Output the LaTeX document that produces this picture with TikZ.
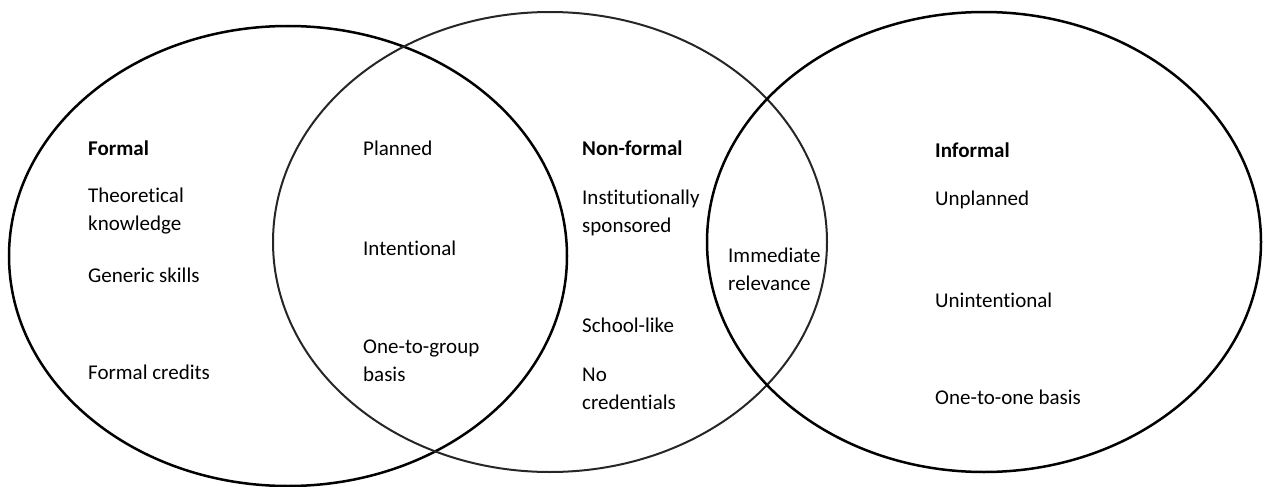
\documentclass[tikz,border=0pt]{standalone}
\usepackage{fontspec}
\setmainfont[Ligatures={NoCommon}]{Carlito}
\usetikzlibrary{shapes.geometric, positioning}

\begin{document}
\begin{tikzpicture}[x=1pt, y=-1pt]
    \tikzstyle{outerset} = [ellipse, draw=black, line width=2.5pt, inner sep=0pt]
    \tikzstyle{innerset} = [ellipse, draw=black!85, line width=2pt, inner sep=0pt]
    \tikzstyle{txt} = [anchor=west, align=left, inner sep=0pt, font=\fontsize{21}{28}\selectfont]
    \tikzstyle{head} = [txt, font=\fontsize{21}{28}\selectfont\bfseries]

    \useasboundingbox (0,0) rectangle (1267,487);

    \node (formalset) [outerset, minimum width=558pt, minimum height=460pt] at (288,256) {};
    \node (nonformalset) [innerset, minimum width=554pt, minimum height=460pt] at (550,242) {};
    \node (informalset) [outerset, minimum width=554pt, minimum height=460pt] at (984,242) {};

    % formal
    \node (formal) [head] at (88,148) {Formal};
    \node (theor) [txt] at (88,211) {Theoretical\\knowledge};
    \node (generic) [txt] at (88,275) {Generic skills};
    \node (credits) [txt] at (88,372) {Formal credits};

    % formal and non-formal
    \node (planned) [txt] at (363,148) {Planned};
    \node (intent) [txt] at (363,248) {Intentional};
    \node (group) [txt] at (363,361) {One-to-group\\basis};

    % non-formal
    \node (nonformal) [head] at (582,148) {Non-formal};
    \node (inst) [txt] at (582,213) {Institutionally\\sponsored};
    \node (school) [txt] at (582,325) {School-like};
    \node (nocred) [txt] at (582,389) {No\\credentials};

    % non-formal and informal
    \node (relevance) [txt] at (728,269) {Immediate\\relevance};

    % informal
    \node (informal) [head] at (935,150) {Informal};
    \node (unplanned) [txt] at (935,200) {Unplanned};
    \node (unintent) [txt] at (935,300) {Unintentional};
    \node (onetoone) [txt] at (935,397) {One-to-one basis};
\end{tikzpicture}
\end{document}
